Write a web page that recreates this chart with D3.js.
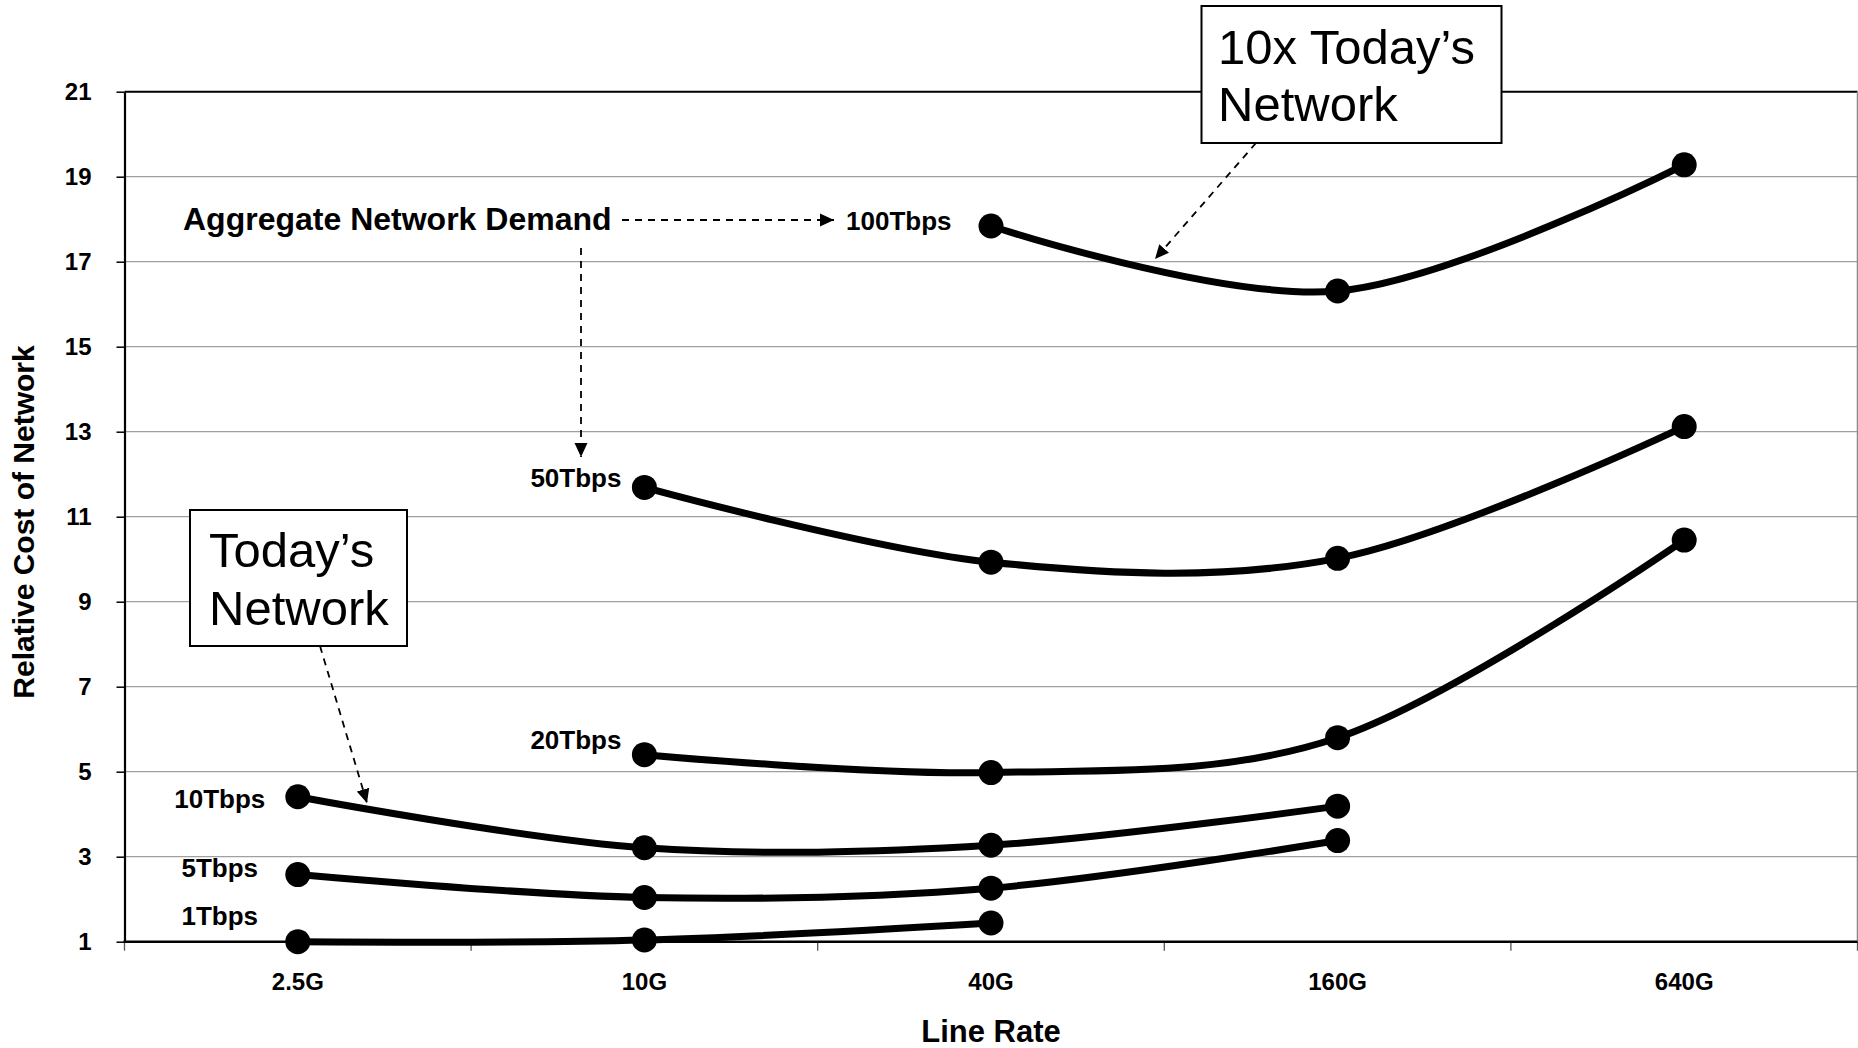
<!DOCTYPE html>
<html><head><meta charset="utf-8">
<script src="https://cdnjs.cloudflare.com/ajax/libs/d3/7.8.5/d3.min.js"></script>
<style>
html,body{margin:0;padding:0;background:#fff;overflow:hidden;}
svg{display:block;font-family:"Liberation Sans",Arial,Helvetica,sans-serif;}
</style></head><body>
<svg id="chart" width="1858" height="1048"></svg>
<script>
// ---- data ----
const categories = ["2.5G","10G","40G","160G","640G"];
const yTickValues = [1,3,5,7,9,11,13,15,17,19,21];
const seriesNames = ["1Tbps","5Tbps","10Tbps","20Tbps","50Tbps","100Tbps"];
const s1Tbps   = [1.00, 1.04, 1.44, null, null];
const s5Tbps   = [2.58, 2.04, 2.26, 3.38, null];
const s10Tbps  = [4.41, 3.21, 3.27, 4.19, null];
const s20Tbps  = [null, 5.40, 4.98, 5.80, 10.45];
const s50Tbps  = [null, 11.69, 9.93, 10.02, 13.12];
const s100Tbps = [null, null, 17.84, 16.31, 19.28];
const seriesValues = [s1Tbps, s5Tbps, s10Tbps, s20Tbps, s50Tbps, s100Tbps];
const xTitle = "Line Rate";
const yTitle = "Relative Cost of Network";
const demandText = "Aggregate Network Demand";
const todayText = ["Today\u2019s", "Network"];
const tenxText = ["10x Today\u2019s", "Network"];

// ---- layout ----
const W = 1858, H = 1048;
const plot = {left:124.5, right:1857.5, top:91.7, bottom:941.7};
const svg = d3.select("#chart");

const x = d3.scaleBand().domain(categories).range([plot.left, plot.right]).paddingInner(0).paddingOuter(0);
const xc = c => x(c) + x.bandwidth()/2;
const y = d3.scaleLinear().domain([1,21]).range([plot.bottom, plot.top]);

// gridlines
svg.append("g").selectAll("line").data(yTickValues.filter(v => v>1 && v<21)).join("line")
  .attr("x1", plot.left).attr("x2", plot.right)
  .attr("y1", d=>y(d)).attr("y2", d=>y(d))
  .attr("stroke", "#a0a0a0").attr("stroke-width", 1.2);

// top border and right border
svg.append("line").attr("x1", plot.left).attr("x2", plot.right).attr("y1", y(21)).attr("y2", y(21))
  .attr("stroke", "#000").attr("stroke-width", 2);
svg.append("line").attr("x1", plot.right).attr("x2", plot.right).attr("y1", plot.top).attr("y2", plot.bottom)
  .attr("stroke", "#888").attr("stroke-width", 1.5);

// y axis
const yAxis = d3.axisLeft(y).tickValues(yTickValues).tickSize(8).tickSizeOuter(0).tickPadding(25);
const gy = svg.append("g").attr("transform", `translate(${plot.left},0)`).call(yAxis);
gy.select(".domain").attr("stroke", "#000").attr("stroke-width", 2.2);
gy.selectAll(".tick line").attr("stroke", "#000").attr("stroke-width", 1.5);
gy.selectAll(".tick text").attr("font-size", 24).attr("font-weight", "bold").attr("fill", "#000")
  .attr("font-family", "'Liberation Sans',Arial,sans-serif");

// x axis (labels at category centers, ticks at band boundaries)
const xAxis = d3.axisBottom(x).tickSize(0).tickSizeOuter(0).tickPadding(31);
const gx = svg.append("g").attr("transform", `translate(0,${plot.bottom})`).call(xAxis);
gx.select(".domain").remove();
gx.selectAll(".tick text").attr("font-size", 24).attr("font-weight", "bold").attr("fill", "#000")
  .attr("font-family", "'Liberation Sans',Arial,sans-serif");
const boundaries = categories.map(c => x(c)).concat([x(categories[categories.length-1]) + x.bandwidth()]);
svg.append("g").selectAll("line").data(boundaries).join("line")
  .attr("x1", d=>d).attr("x2", d=>d).attr("y1", plot.bottom).attr("y2", plot.bottom + 9)
  .attr("stroke", "#555").attr("stroke-width", 1.3);
svg.append("line").attr("x1", plot.left - 1).attr("x2", plot.right).attr("y1", plot.bottom).attr("y2", plot.bottom)
  .attr("stroke", "#000").attr("stroke-width", 2.6);

// axis titles
svg.append("text").attr("x", (plot.left + plot.right)/2).attr("y", 1041.5)
  .attr("text-anchor", "middle").attr("font-size", 31).attr("font-weight", "bold").text(xTitle);
svg.append("text").attr("transform", "translate(34,522) rotate(-90)")
  .attr("text-anchor", "middle").attr("font-size", 30).attr("font-weight", "bold").text(yTitle);

// series lines
const line = d3.line().defined(d => d.v != null).x(d => xc(d.c)).y(d => y(d.v)).curve(d3.curveCardinal.tension(0));
const seriesData = seriesNames.map((name, i) => ({
  name, pts: categories.map((c, j) => ({c, v: seriesValues[i][j]})).filter(d => d.v != null)
}));
svg.append("g").selectAll("path").data(seriesData).join("path")
  .attr("d", d => line(d.pts)).attr("fill", "none").attr("stroke", "#000")
  .attr("stroke-width", 7).attr("stroke-linejoin", "round").attr("stroke-linecap", "round");
svg.append("g").selectAll("circle").data(seriesData.flatMap(s => s.pts)).join("circle")
  .attr("cx", d => xc(d.c)).attr("cy", d => y(d.v)).attr("r", 12.5).attr("fill", "#000");

// series labels (offset from first point of each series)
const labelOffsets = {
  "1Tbps":   {dx:-78,  dy:-17,  anchor:"middle"},
  "5Tbps":   {dx:-78,  dy:2.5,  anchor:"middle"},
  "10Tbps":  {dx:-78,  dy:11.5, anchor:"middle"},
  "20Tbps":  {dx:-68.5,dy:-6,   anchor:"middle"},
  "50Tbps":  {dx:-68.5,dy:-0.5, anchor:"middle"},
  "100Tbps": {dx:-145, dy:4,    anchor:"start"}
};
svg.append("g").selectAll("text").data(seriesData).join("text")
  .attr("x", d => xc(d.pts[0].c) + labelOffsets[d.name].dx)
  .attr("y", d => y(d.pts[0].v) + labelOffsets[d.name].dy)
  .attr("text-anchor", d => labelOffsets[d.name].anchor)
  .attr("font-size", 26).attr("font-weight", "bold").text(d => d.name);

// arrow marker
const defs = svg.append("defs");
defs.append("marker").attr("id", "arrow").attr("viewBox", "0 -7 15 14")
  .attr("refX", 14).attr("refY", 0).attr("markerWidth", 15).attr("markerHeight", 14)
  .attr("markerUnits", "userSpaceOnUse").attr("orient", "auto")
  .append("path").attr("d", "M0,-6.5L14,0L0,6.5Z").attr("fill", "#000");

function dashedArrow(x1, y1, x2, y2) {
  svg.append("line").attr("x1", x1).attr("y1", y1).attr("x2", x2).attr("y2", y2)
    .attr("stroke", "#000").attr("stroke-width", 1.8).attr("stroke-dasharray", "7,6")
    .attr("marker-end", "url(#arrow)");
}

// Aggregate demand annotation
svg.append("text").attr("x", 183).attr("y", 230).attr("font-size", 32).attr("font-weight", "bold").text(demandText);
dashedArrow(622, 220, 834, 220);
dashedArrow(581, 248, 581, 457);

// callout boxes
function callout(bx, by, bw, bh, tx, lines, baseline0, lineGap) {
  svg.append("rect").attr("x", bx).attr("y", by).attr("width", bw).attr("height", bh)
    .attr("fill", "#fff").attr("stroke", "#000").attr("stroke-width", 2);
  const t = svg.append("text").attr("font-size", 49).attr("font-weight", "normal");
  lines.forEach((s, i) => t.append("tspan").attr("x", tx).attr("y", baseline0 + i*lineGap).text(s));
}
dashedArrow(320, 646, 367, 803);
dashedArrow(1256, 143, 1155, 259);
callout(190, 510, 217, 136, 209, todayText, 567, 57.5);
callout(1201.5, 6, 300, 137, 1218, tenxText, 63.5, 57);
</script>
</body></html>
